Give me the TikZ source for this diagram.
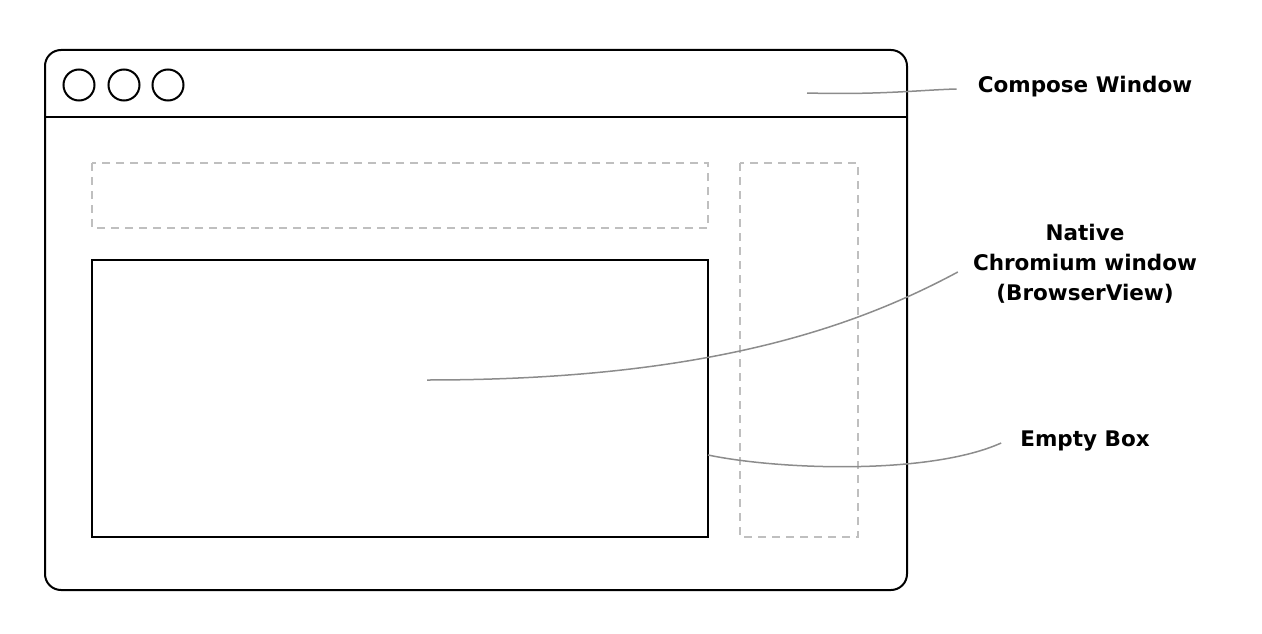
\documentclass[tikz,border=0pt]{standalone}
\usepackage{fontspec}
\setmainfont{DejaVu Sans}
\begin{document}
\begin{tikzpicture}[x=1pt, y=-1pt,
    frame/.style={draw=black, line width=2pt},
    slot/.style={draw=black!25, line width=2pt, dash pattern=on 8pt off 6pt},
    leader/.style={draw=black!45, line width=1.5pt},
    callout/.style={font=\fontsize{21.5}{30}\selectfont\bfseries, align=center, inner sep=0pt}]
    \useasboundingbox (0,0) rectangle (1262,634);

    % window frame and title bar
    \draw[frame, rounded corners=16pt] (45,50) rectangle (907,590);
    \draw[frame] (45,117) -- (907,117);
    \foreach \cx in {79,124,168}
        \draw[line width=2pt] (\cx,85) circle (15.5pt);

    % placeholders
    \draw[slot] (92,163) rectangle (708,228);
    \draw[slot] (740,163) rectangle (858,537);
    \draw[frame] (92,260) rectangle (708,537);

    % labels
    \node[callout] (lblcompose) at (1085,87) {Compose Window};
    \node[callout] (lblnative) at (1085,264) {Native\\Chromium window\\(BrowserView)};
    \node[callout] (lblempty) at (1085,441) {Empty Box};

    \coordinate (cwin) at (807,93);
    \coordinate (cnative) at (427,380);
    \coordinate (cempty) at (708,455);

    \draw[leader] (cwin) .. controls (880,95) and (920,90) .. ([xshift=-21pt, yshift=-2pt]lblcompose.west);
    \draw[leader] (cnative) .. controls (700,380) and (850,330) .. ([xshift=-15pt, yshift=-8pt]lblnative.west);
    \draw[leader] (cempty) .. controls (780,470) and (930,475) .. ([xshift=-19pt, yshift=-2pt]lblempty.west);
\end{tikzpicture}
\end{document}
